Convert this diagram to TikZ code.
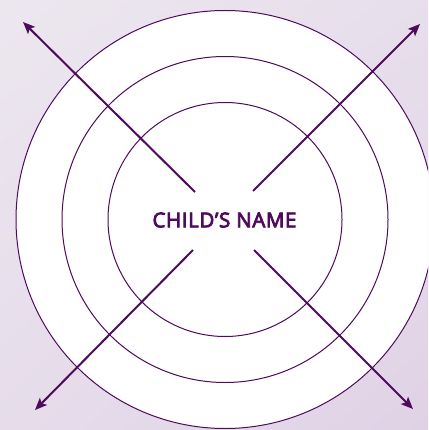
\documentclass[tikz,border=0pt]{standalone}
\usepackage{fontspec}
\setmainfont{Open Sans}
\newfontfamily\labelfont[FakeBold=4,LetterSpace=3]{Open Sans}
\usetikzlibrary{arrows.meta,shadings}
\definecolor{ink}{HTML}{4E0A5C}
\definecolor{bgA}{HTML}{ECE7EF}
\definecolor{bgB}{HTML}{E0D2E6}
\begin{document}
\begin{tikzpicture}[x=1pt,y=-1pt,
  ring/.style={draw=ink,line width=1pt,fill=white},
  ray/.style={draw=ink,line width=2pt,-{Stealth[length=12pt,width=10pt,inset=2.5pt]}},
  label/.style={text=ink,font=\labelfont\fontsize{20.5}{22}\selectfont,inner sep=0pt}]
\useasboundingbox (0,0) rectangle (428,430);
\clip (0,0) rectangle (428,430);
\shade[upper left=bgA, upper right=bgA!60!bgB, lower left=bgA!50!bgB, lower right=bgB] (0,0) rectangle (428,430);
\coordinate (c) at (225,219.5);
\draw[ring] (c) circle (209pt);
\draw[ring] (c) circle (163pt);
\draw[ring] (c) circle (117pt);
\node[label] (name) at (224.5,220) {CHILD’S NAME};
\coordinate (ulS) at (195,192);
\coordinate (ulE) at (23,22);
\coordinate (urS) at (253,191);
\coordinate (urE) at (420,24);
\coordinate (llS) at (193,250);
\coordinate (llE) at (35,410);
\coordinate (lrS) at (254,250);
\coordinate (lrE) at (413,409);
\draw[ray] (ulS) -- (ulE);
\draw[ray] (urS) -- (urE);
\draw[ray] (llS) -- (llE);
\draw[ray] (lrS) -- (lrE);
\end{tikzpicture}
\end{document}
